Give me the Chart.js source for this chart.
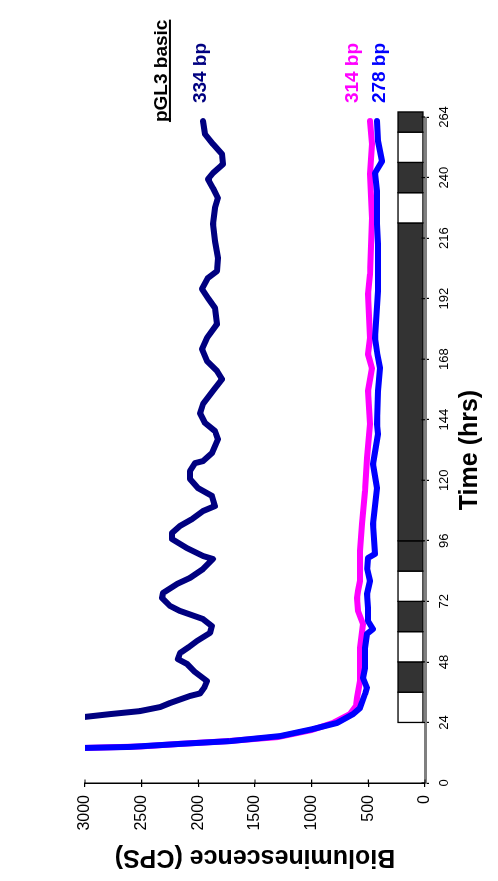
<!DOCTYPE html>
<html><head><meta charset="utf-8">
<script src="https://cdn.jsdelivr.net/npm/chart.js@4.4.1/dist/chart.umd.min.js"></script>
<style>
html,body{margin:0;padding:0;background:#fff;overflow:hidden;}
#wrap{position:relative;width:498px;height:881px;overflow:hidden;background:#fff;}
#c{position:absolute;left:0;top:0;transform-origin:0 0;transform:translate(0,881px) rotate(-90deg);}
</style></head><body>
<div id="wrap"><canvas id="c" width="881" height="498"></canvas></div>
<script>
// ---- data ----
const timeMin = 0, timeMax = 264, timeStep = 24;
const valueMin = 0, valueMax = 3000, valueStep = 500;

const navyT = [24,26.2,27.3,28.5,30.1,31.7,34.5,35.5,38,40.4,41.6,44,47.2,49.1,51.5,54,56.3,59.5,62.2,65.0,68.2,70.2,73.3,75.3,78.9,81.3,84.8,88.8,90.0,93.1,96.7,99.1,101.9,104.6,107.8,109.8,113.8,116.9,120.5,123.7,126.8,127.6,130.8,136.3,139.5,142.7,146.6,150.2,155.4,160.1,163.3,167.3,172.0,176.4,181.9,188.3,192.2,195.8,200.2,202.9,208.1,214.8,221.6,227.9,231.9,235.8,239.4,241.8,245.3,249.3,253.3,257.2,262.4];
const navyV = [3450,3000,2780,2515,2338,2250,2074,1985,1945,1924,1959,2030,2100,2180,2162,2080,2012,1897,1880,1959,2162,2250,2320,2312,2188,2074,1959,1871,1959,2100,2232,2232,2162,2056,1959,1853,1880,2003,2074,2074,2030,1959,1880,1827,1853,1941,1985,1959,1871,1791,1835,1924,1968,1924,1835,1853,1915,1968,1915,1835,1827,1853,1871,1853,1827,1871,1915,1871,1782,1791,1871,1941,1959];

const blueT = [13,13.9,14.3,15.5,16.6,18.6,21.4,23.8,27.3,29.7,35.3,37.7,41.6,45.6,53.5,59.1,61.0,64.2,69.4,74.9,80.1,85,89.2,90.8,102.7,116.9,126.4,138.3,142.3,155.4,164.5,170,176.4,195.0,213.6,221.6,234.6,241.8,246.5,254.5,262.4];
const blueV = [4000,3000,2603,2162,1721,1279,988,776,635,574,529,512,547,529,529,512,459,503,503,512,485,510,503,441,459,424,459,415,424,415,397,420,441,415,415,424,424,441,379,415,424];

const magT = [13,13.9,14.5,15.5,16.6,18.2,21.0,23.8,27.3,30.5,33.7,40.4,47.2,53.5,63.0,68.2,73.3,76.1,80.1,92,102.7,115.7,128.8,142.3,155.4,164.5,170.0,176.4,193.8,201.7,223.9,241.4,253.3,262.4];
const magV = [4000,3000,2500,2170,1740,1300,1000,812,662,609,600,574,574,574,547,591,600,591,574,574,556,529,512,485,503,468,503,485,503,485,468,485,468,485];

// light/dark bar
const barStart = [24,36,48,60,72,84,96,222,234,246,258];
const barEnd   = [36,48,60,72,84,96,222,234,246,258,266];
const barDark  = [0,1,0,1,0,1,1,0,1,0,1];
const barLow = 18, barHigh = 238;

// labels
const labelTexts = ['pGL3 basic','334 bp','314 bp','278 bp'];
const labelT = [262,269.5,269.5,269.5];
const labelV = [2277,1932,591,353];
const labelColors = ['#000','#000080','#FF00FF','#0000FF'];

const FONT = "'Liberation Sans', Arial, sans-serif";
function pts(t,v){return t.map((x,i)=>({x:x,y:v[i]}));}

const barPlugin = {
  id:'lightbar',
  afterDatasetsDraw(chart){
    const ctx=chart.ctx, xs=chart.scales.x, ys=chart.scales.y;
    const y0=ys.getPixelForValue(barHigh), y1=ys.getPixelForValue(barLow);
    ctx.save();
    ctx.lineWidth=1.3; ctx.strokeStyle='#000';
    for(let i=0;i<barStart.length;i++){
      const x0=xs.getPixelForValue(barStart[i]), x1=xs.getPixelForValue(barEnd[i]);
      ctx.fillStyle=barDark[i]?'#333333':'#ffffff';
      ctx.fillRect(x0,y0,x1-x0,y1-y0);
      ctx.strokeRect(x0,y0,x1-x0,y1-y0);
    }
    ctx.restore();
  }
};

const tickPlugin = {
  id:'innerTicks',
  afterDraw(chart){
    const ctx=chart.ctx, xs=chart.scales.x, ys=chart.scales.y, a=chart.chartArea;
    ctx.save(); ctx.strokeStyle='#000'; ctx.lineWidth=1.2; ctx.beginPath();
    xs.ticks.forEach((t,i)=>{const p=xs.getPixelForTick(i); ctx.moveTo(p,a.bottom-3.5); ctx.lineTo(p,a.bottom);});
    ys.ticks.forEach((t,i)=>{const p=ys.getPixelForTick(i); ctx.moveTo(a.left,p); ctx.lineTo(a.left+3.5,p);});
    ctx.stroke(); ctx.restore();
  }
};

const labelPlugin = {
  id:'seriesLabels',
  afterDraw(chart){
    const ctx=chart.ctx, xs=chart.scales.x, ys=chart.scales.y;
    ctx.save();
    ctx.font="bold 19px "+FONT; ctx.textBaseline='alphabetic'; ctx.textAlign='left';
    for(let i=0;i<labelTexts.length;i++){
      const x=xs.getPixelForValue(labelT[i]), y=ys.getPixelForValue(labelV[i]);
      ctx.fillStyle=labelColors[i];
      ctx.fillText(labelTexts[i],x,y);
      if(i===0){const w=ctx.measureText(labelTexts[i]).width; ctx.fillRect(x,y+2,w,2);}
    }
    ctx.restore();
  }
};

new Chart(document.getElementById('c').getContext('2d'),{
  type:'line',
  data:{datasets:[
    {label:'334 bp',data:pts(navyT,navyV),borderColor:'#000080',borderWidth:6,pointRadius:0,tension:0,fill:false,borderJoinStyle:'round',borderCapStyle:'round'},
    {label:'278 bp',data:pts(blueT,blueV),borderColor:'#0000FF',borderWidth:6,pointRadius:0,tension:0,fill:false,borderJoinStyle:'round',borderCapStyle:'round'},
    {label:'314 bp',data:pts(magT,magV),borderColor:'#FF00FF',borderWidth:6,pointRadius:0,tension:0,fill:false,borderJoinStyle:'round',borderCapStyle:'round'}
  ]},
  options:{
    responsive:false, animation:false, devicePixelRatio:1,
    layout:{padding:{top:85,right:117,left:0,bottom:0}},
    plugins:{legend:{display:false},tooltip:{enabled:false}},
    scales:{
      x:{type:'linear',min:timeMin,max:timeMax,
        afterFit(s){s.height=73;},
        ticks:{stepSize:timeStep,autoSkip:false,maxRotation:0,color:'#000',padding:8,font:{family:FONT,size:13},callback:v=>String(v)},
        grid:{drawOnChartArea:false,drawTicks:true,tickLength:4,color:'#000',lineWidth:1.2},
        border:{color:'#808080',width:3},
        title:{display:true,text:'Time (hrs)',color:'#000',font:{family:FONT,size:25,weight:'bold'},padding:{top:0,bottom:13}}
      },
      y:{type:'linear',min:valueMin,max:valueMax,
        afterFit(s){s.width=98;},
        ticks:{stepSize:valueStep,color:'#000',padding:8,font:{family:FONT,size:16},callback:v=>String(v)},
        grid:{drawOnChartArea:false,drawTicks:true,tickLength:4,color:'#000',lineWidth:1.2},
        border:{color:'#000',width:1.5},
        title:{display:true,text:'Bioluminescence (CPS)',color:'#000',font:{family:FONT,size:25,weight:'bold'},padding:{top:9,bottom:0}}
      }
    }
  },
  plugins:[barPlugin,tickPlugin,labelPlugin]
});
</script>
</body></html>
